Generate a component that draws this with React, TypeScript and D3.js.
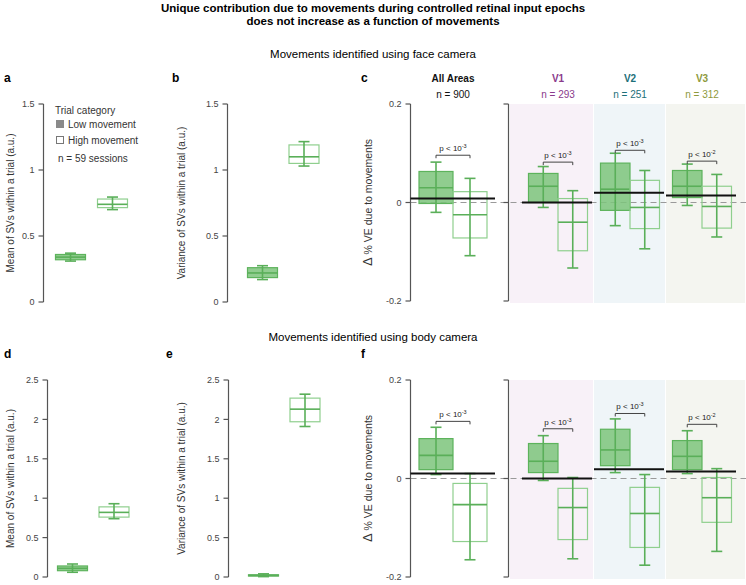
import React from "react";
import * as d3 from "d3";

// ---------- DATA ----------
const trialCategories = ["Low movement", "High movement"];
// [whiskerLow, q1, median, q3, whiskerHigh]
const meanFace = [
  [0.31, 0.32, 0.34, 0.36, 0.37],
  [0.70, 0.715, 0.74, 0.78, 0.795],
];
const varFace = [
  [0.17, 0.185, 0.22, 0.26, 0.275],
  [1.03, 1.05, 1.10, 1.19, 1.215],
];
const meanBody = [
  [0.06, 0.08, 0.11, 0.14, 0.165],
  [0.74, 0.76, 0.82, 0.89, 0.93],
];
const varBody = [
  [0.005, 0.012, 0.02, 0.028, 0.04],
  [1.91, 1.97, 2.13, 2.27, 2.32],
];

const areas = ["All Areas", "V1", "V2", "V3"];
const areaN = ["n = 900", "n = 293", "n = 251", "n = 312"];
const areaColors = ["#111111", "#8a3a8c", "#1c6f79", "#8e9a3c"];
const areaBg = ["none", "#f8f1f8", "#eff5f8", "#f4f5f0"];
const pFace = ["-3", "-3", "-3", "-2"];
const pBody = ["-3", "-3", "-3", "-2"];

// per area: low box, high box
const dveFace = [
  [[-0.02, -0.002, 0.03, 0.063, 0.082], [-0.108, -0.072, -0.025, 0.022, 0.049]],
  [[-0.01, 0.0, 0.033, 0.059, 0.073], [-0.133, -0.098, -0.04, 0.008, 0.024]],
  [[-0.047, -0.016, 0.027, 0.08, 0.1], [-0.094, -0.053, -0.01, 0.045, 0.065]],
  [[-0.006, 0.01, 0.033, 0.065, 0.078], [-0.07, -0.052, -0.008, 0.033, 0.057]],
];
const meanFaceLine = [0.008, 0.0, 0.02, 0.014];
const bracketFace = [0.096, 0.082, 0.106, 0.084];

const dveBody = [
  [[0.008, 0.018, 0.047, 0.081, 0.104], [-0.165, -0.128, -0.053, -0.01, 0.01]],
  [[-0.004, 0.012, 0.035, 0.071, 0.087], [-0.163, -0.124, -0.059, -0.02, 0.002]],
  [[0.012, 0.026, 0.058, 0.1, 0.121], [-0.176, -0.14, -0.071, -0.018, 0.008]],
  [[0.01, 0.018, 0.045, 0.077, 0.097], [-0.148, -0.089, -0.039, 0.002, 0.02]],
];
const meanBodyLine = [0.01, 0.0, 0.019, 0.014];
const bracketBody = [0.116, 0.101, 0.132, 0.11];

const ticks15 = [0, 0.5, 1, 1.5];
const ticks25 = [0, 0.5, 1, 1.5, 2, 2.5];
const ticksDve = [-0.2, 0, 0.2];

// ---------- STYLE ----------
const FONT = "'Liberation Sans', Arial, Helvetica, sans-serif";
const AX = "#555";
const GREEN_FILL = "#7cc47b";
const GREEN_STROKE = "#5db35c";
const GREEN_OPEN = "#8fcf8e";
const GREEN_WHISK = "#5aaf59";

type Scale = d3.ScaleLinear<number, number>;

function fmt(v: number) {
  return v === 0 ? "0" : String(v);
}

function YAxis({ x, y, ticks, labels = true }: { x: number; y: Scale; ticks: number[]; labels?: boolean }) {
  const [r0, r1] = y.range();
  return (
    <g>
      <line x1={x} x2={x} y1={r0} y2={r1} stroke={AX} strokeWidth={1.2} />
      {ticks.map((t) => (
        <g key={t}>
          <line x1={x - 5} x2={x} y1={y(t)} y2={y(t)} stroke={AX} strokeWidth={1.2} />
          {labels && (
            <text x={x - 9} y={y(t)} dy="0.35em" textAnchor="end" fontSize={9} fill="#444" fontFamily={FONT}>
              {fmt(t)}
            </text>
          )}
        </g>
      ))}
    </g>
  );
}

function Box({ cx, w, y, v, filled, cap = 11 }: { cx: number; w: number; y: Scale; v: number[]; filled: boolean; cap?: number }) {
  const [wl, q1, med, q3, wh] = v;
  return (
    <g>
      <rect
        x={cx - w / 2}
        y={y(q3)}
        width={w}
        height={Math.max(1, y(q1) - y(q3))}
        fill={filled ? GREEN_FILL : "none"}
        fillOpacity={filled ? 0.85 : 0}
        stroke={filled ? GREEN_STROKE : GREEN_OPEN}
        strokeWidth={1.2}
      />
      <line x1={cx - w / 2} x2={cx + w / 2} y1={y(med)} y2={y(med)} stroke={GREEN_WHISK} strokeWidth={1.6} />
      <line x1={cx} x2={cx} y1={y(wh)} y2={y(wl)} stroke={GREEN_WHISK} strokeWidth={1.6} />
      <line x1={cx - cap / 2} x2={cx + cap / 2} y1={y(wh)} y2={y(wh)} stroke={GREEN_WHISK} strokeWidth={1.6} />
      <line x1={cx - cap / 2} x2={cx + cap / 2} y1={y(wl)} y2={y(wl)} stroke={GREEN_WHISK} strokeWidth={1.6} />
    </g>
  );
}

function SimplePanel({
  letter, lx, axisX, y, ticks, data, centers, ylabel, labelX,
}: {
  letter: string; lx: number; axisX: number; y: Scale; ticks: number[]; data: number[][]; centers: Scale; ylabel: string; labelX: number;
}) {
  const [r0, r1] = y.range();
  const mid = (r0 + r1) / 2;
  return (
    <g>
      <text x={lx} y={r1 - 22} fontSize={12} fontWeight="bold" fontFamily={FONT}>{letter}</text>
      <YAxis x={axisX} y={y} ticks={ticks} />
      <text transform={`translate(${labelX},${mid}) rotate(-90)`} textAnchor="middle" fontSize={10} fill="#333" fontFamily={FONT}>
        {ylabel}
      </text>
      {data.map((v, i) => (
        <Box key={i} cx={centers(i)} w={30} y={y} v={v} filled={i === 0} />
      ))}
    </g>
  );
}

function DvePanel({
  letter, y, data, means, brackets, pvals, header,
}: {
  letter: string; y: Scale; data: number[][][]; means: number[]; brackets: number[]; pvals: string[]; header: boolean;
}) {
  const axisX = 410.5;
  const rightX = 508.5;
  const gx = d3.scaleLinear().domain([1, 3]).range([558, 702]);
  const center = (i: number) => (i === 0 ? 453 : gx(i));
  const bw = (i: number) => (i === 0 ? 34 : 29.5);
  const bounds = d3.scaleLinear().domain([0.5, 3.5]).range([510, 746]);
  const [r0, r1] = y.range();
  const mid = (r0 + r1) / 2;
  const left = (i: number) => (i === 1 ? bounds(0.5) : (center(i - 1) + center(i)) / 2);
  const right = (i: number) => (i === 3 ? bounds(3.5) : (center(i) + center(i + 1)) / 2);
  return (
    <g>
      <text x={361} y={r1 - 22} fontSize={12} fontWeight="bold" fontFamily={FONT}>{letter}</text>
      {areas.map((a, i) =>
        i === 0 ? null : (
          <rect key={a} x={left(i)} width={right(i) - left(i) - 1} y={r1} height={r0 - r1 + 2} fill={areaBg[i]} />
        )
      )}
      <line x1={axisX} x2={746} y1={y(0)} y2={y(0)} stroke="#9a9a9a" strokeWidth={1.1} strokeDasharray="6,4" />
      <YAxis x={axisX} y={y} ticks={ticksDve} />
      <g>
        <line x1={rightX} x2={rightX} y1={r0} y2={r1} stroke={AX} strokeWidth={1.2} />
        {ticksDve.map((t) => (
          <line key={t} x1={rightX - 5} x2={rightX} y1={y(t)} y2={y(t)} stroke={AX} strokeWidth={1.2} />
        ))}
      </g>
      <text transform={`translate(372,${mid}) rotate(-90)`} textAnchor="middle" fontSize={10.5} fill="#333" fontFamily={FONT}>
        <tspan fontSize={13}>Δ</tspan> % VE due to movements
      </text>
      {header && areas.map((a, i) => (
        <g key={a}>
          <text x={center(i)} y={r1 - 22} textAnchor="middle" fontSize={10} fontWeight="bold" fill={areaColors[i]} fontFamily={FONT}>{a}</text>
          <text x={center(i)} y={r1 - 6} textAnchor="middle" fontSize={10} fill={areaColors[i]} fontFamily={FONT}>{areaN[i]}</text>
        </g>
      ))}
      {data.map((pair, i) => {
        const c = center(i);
        const w = bw(i);
        const lowC = c - w / 2;
        const highC = c + w / 2;
        const by = y(brackets[i]);
        return (
          <g key={i}>
            <Box cx={lowC} w={w} y={y} v={pair[0]} filled={true} />
            <Box cx={highC} w={w} y={y} v={pair[1]} filled={false} />
            <path d={`M${lowC},${by + 3}V${by}H${highC}V${by + 3}`} fill="none" stroke="#444" strokeWidth={1} />
            <text x={c} y={by - 4} textAnchor="middle" fontSize={8} fill="#222" fontFamily={FONT}>
              p &lt; 10<tspan fontSize={5.5} dy={-3}>{pvals[i]}</tspan>
            </text>
            <line
              x1={i === 0 ? axisX : c - 36}
              x2={i === 0 ? c + 42 : c + 34}
              y1={y(means[i])} y2={y(means[i])} stroke="#111" strokeWidth={2} />
          </g>
        );
      })}
    </g>
  );
}

export default function App() {
  const yTop = d3.scaleLinear().domain([0, 1.5]).range([302, 104]);
  const yBot = d3.scaleLinear().domain([0, 2.5]).range([577, 380]);
  const yDveTop = d3.scaleLinear().domain([-0.2, 0.2]).range([301, 104]);
  const yDveBot = d3.scaleLinear().domain([-0.2, 0.2]).range([577, 380]);

  const cA = d3.scaleLinear().domain([0, 1]).range([70.5, 112.5]);
  const cB = d3.scaleLinear().domain([0, 1]).range([262.5, 304]);
  const cD = d3.scaleLinear().domain([0, 1]).range([72.5, 114]);
  const cE = d3.scaleLinear().domain([0, 1]).range([263.5, 305]);

  return (
    <svg width={746} height={585} style={{ position: "absolute", left: 0, top: 0, background: "#fff" }} fontFamily={FONT}>
      <rect width={746} height={585} fill="#fff" />
      <text x={373} y={11.5} textAnchor="middle" fontSize={11.5} fontWeight="bold" fontFamily={FONT}>
        Unique contribution due to movements during controlled retinal input epochs
      </text>
      <text x={373} y={25} textAnchor="middle" fontSize={11.5} fontWeight="bold" fontFamily={FONT}>
        does not increase as a function of movements
      </text>
      <text x={373} y={58} textAnchor="middle" fontSize={11.5} fontFamily={FONT}>
        Movements identified using face camera
      </text>
      <text x={373} y={341} textAnchor="middle" fontSize={11.5} fontFamily={FONT}>
        Movements identified using body camera
      </text>

      <SimplePanel letter="a" lx={4} axisX={43.5} y={yTop} ticks={ticks15} data={meanFace} centers={cA}
        ylabel="Mean of SVs within a trial (a.u.)" labelX={14} />
      <SimplePanel letter="b" lx={172} axisX={227.5} y={yTop} ticks={ticks15} data={varFace} centers={cB}
        ylabel="Variance of SVs within  a trial (a.u.)" labelX={185} />
      <SimplePanel letter="d" lx={4} axisX={47.5} y={yBot} ticks={ticks25} data={meanBody} centers={cD}
        ylabel="Mean of SVs within a trial (a.u.)" labelX={14} />
      <SimplePanel letter="e" lx={166} axisX={228.5} y={yBot} ticks={ticks25} data={varBody} centers={cE}
        ylabel="Variance of SVs within  a trial (a.u.)" labelX={185} />

      {/* legend in panel a */}
      <g fontFamily={FONT} fontSize={10} fill="#333">
        <text x={55} y={114}>Trial category</text>
        {trialCategories.map((c, i) => (
          <g key={c}>
            <rect x={56.5} y={120.5 + i * 16} width={7} height={7}
              fill={i === 0 ? "#8a8a8a" : "#fff"} stroke={i === 0 ? "#8a8a8a" : "#777"} strokeWidth={1} />
            <text x={68} y={128 + i * 16}>{c}</text>
          </g>
        ))}
        <text x={58} y={162}>n = 59 sessions</text>
      </g>

      <DvePanel letter="c" y={yDveTop} data={dveFace} means={meanFaceLine} brackets={bracketFace} pvals={pFace} header={true} />
      <DvePanel letter="f" y={yDveBot} data={dveBody} means={meanBodyLine} brackets={bracketBody} pvals={pBody} header={false} />
    </svg>
  );
}
